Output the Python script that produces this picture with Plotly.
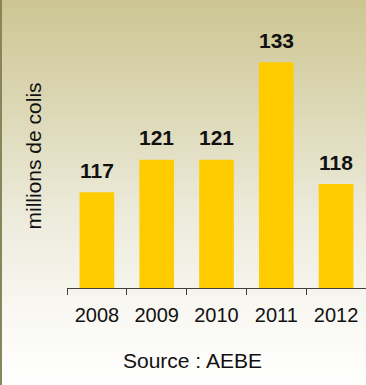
import base64
import plotly.graph_objects as go

years = ["2008", "2009", "2010", "2011", "2012"]
colis = [117, 121, 121, 133, 118]
y_title = "millions de colis"
source = "Source : AEBE"

W, H = 366, 385
ML, MR, MT, MB = 67, 0, 24, 97
PW, PH = W - ML - MR, H - MT - MB

svg = f'''<svg xmlns="http://www.w3.org/2000/svg" width="{W}" height="{H}" viewBox="0 0 {W} {H}" preserveAspectRatio="none">
<defs><linearGradient id="g" x1="0" y1="0" x2="0" y2="1">
<stop offset="0" stop-color="#CDC693"/>
<stop offset="0.3" stop-color="#DDD9B8"/>
<stop offset="0.55" stop-color="#ECEADA"/>
<stop offset="0.8" stop-color="#F8F7F1"/>
<stop offset="1" stop-color="#FFFFFF"/>
</linearGradient></defs>
<rect x="0" y="0" width="{W}" height="{H}" fill="url(#g)"/>
<rect x="0" y="0" width="2" height="{H}" fill="#87855A"/>
</svg>'''
uri = "data:image/svg+xml;base64," + base64.b64encode(svg.encode()).decode()

fig = go.Figure(go.Bar(x=years, y=colis, marker=dict(color="#FFCC00", line=dict(width=0)),
                       width=0.58, hoverinfo="skip"))

FONT = "Liberation Sans, Arial"
ann = []
for i, v in enumerate(colis):
    ann.append(dict(x=i, y=v, xref="x", yref="y", text=f"<b>{v}</b>", showarrow=False,
                    yanchor="middle", yshift=22,
                    font=dict(family=FONT, size=21, color="#111111")))
ann.append(dict(x=(32.5 - ML) / PW, y=0.5, xref="paper", yref="paper", text=y_title,
                textangle=-90, showarrow=False, xanchor="center", yanchor="middle",
                font=dict(family=FONT, size=21, color="#111111")))
ann.append(dict(x=(192 - ML) / PW, y=(MT + PH - 361) / PH, xref="paper", yref="paper",
                text=source, showarrow=False, xanchor="center", yanchor="middle",
                font=dict(family=FONT, size=21, color="#111111")))

fig.update_layout(
    width=W, height=H,
    margin=dict(l=ML, r=MR, t=MT, b=MB, pad=0),
    paper_bgcolor="#FFFFFF", plot_bgcolor="rgba(0,0,0,0)",
    showlegend=False,
    annotations=ann,
    images=[dict(source=uri, xref="paper", yref="paper",
                 x=-ML / PW, y=1 + MT / PH, sizex=W / PW, sizey=H / PH,
                 xanchor="left", yanchor="top", sizing="stretch", layer="below")],
    xaxis=dict(type="category", range=[-0.5, 4.5], showline=True, linecolor="#404040",
               linewidth=1, ticks="outside", ticklen=6, tickcolor="#404040",
               tickson="boundaries", showgrid=False, zeroline=False,
               tickfont=dict(family=FONT, size=20, color="#111111"),
               ticklabelstandoff=9, fixedrange=True),
    yaxis=dict(range=[105.2, 105.2 + PH / 8.125], visible=False, showgrid=False,
               zeroline=False, fixedrange=True),
)

fig.write_html("out.html", config={"displayModeBar": False, "staticPlot": True},
               post_script="document.body.style.margin='0';document.body.style.overflow='hidden';")
